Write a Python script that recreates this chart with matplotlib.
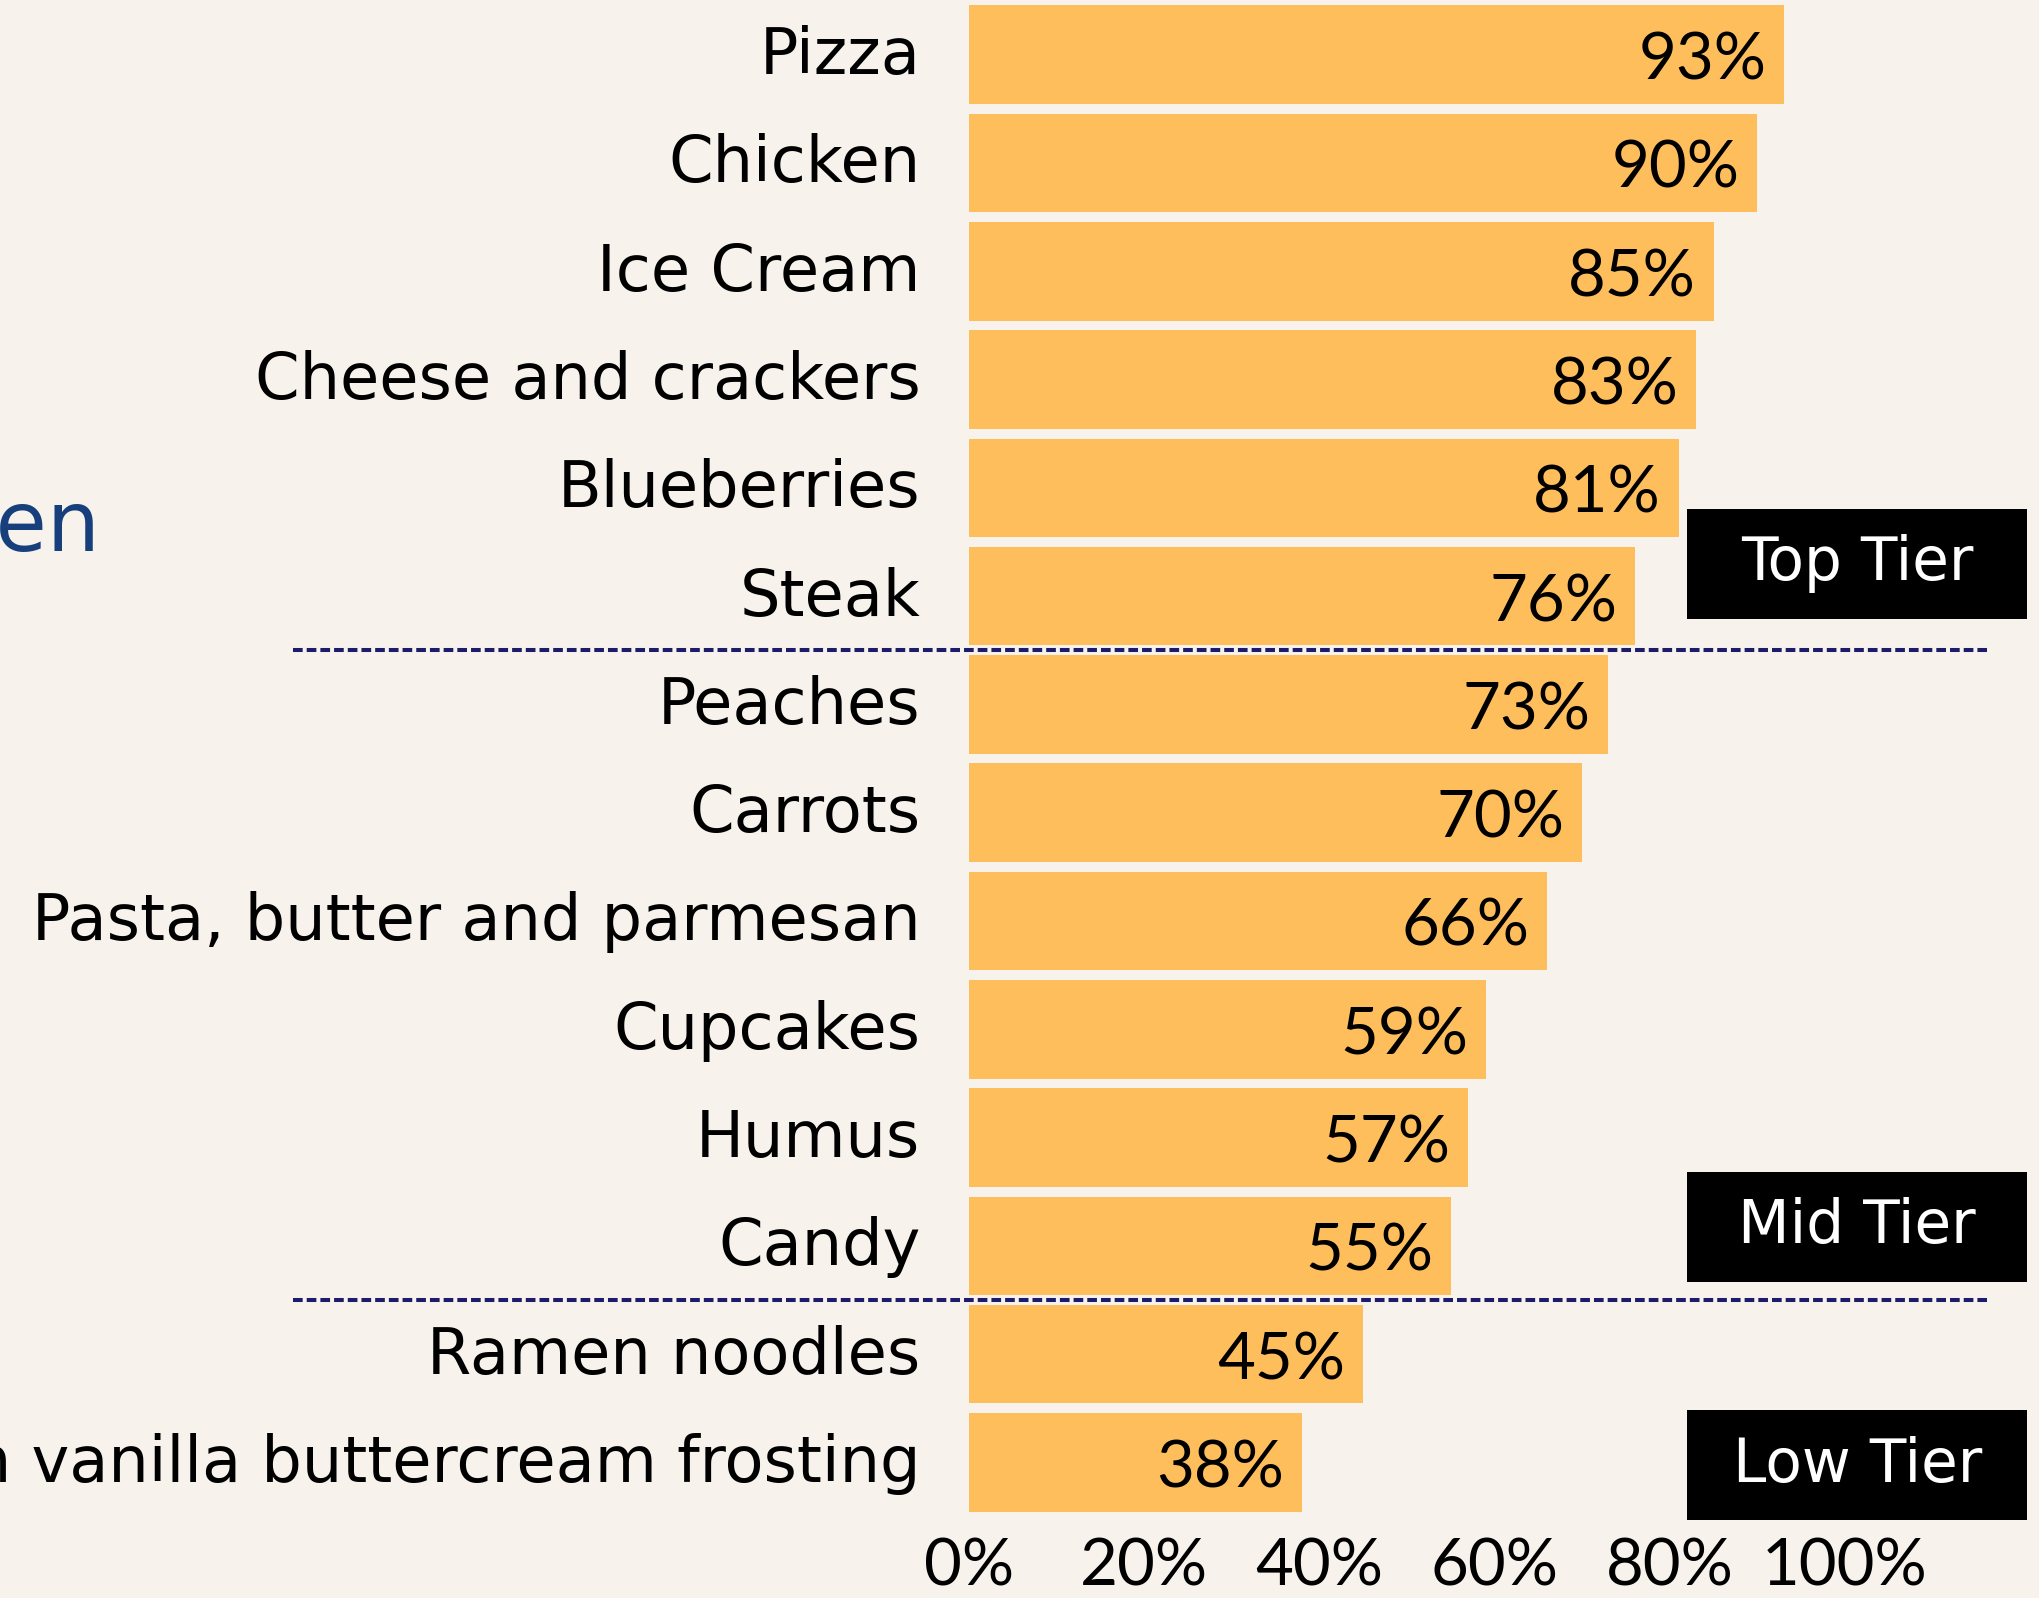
import matplotlib.pyplot as plt
from matplotlib.patches import Rectangle
from matplotlib.transforms import ScaledTranslation

# data
foods = ['Pizza', 'Chicken', 'Ice Cream', 'Cheese and crackers', 'Blueberries', 'Steak',
         'Peaches', 'Carrots', 'Pasta, butter and parmesan', 'Cupcakes', 'Humus', 'Candy',
         'Ramen noodles', 'Cake with vanilla buttercream frosting']
liked = [93, 90, 85, 83, 81, 76, 73, 70, 66, 59, 57, 55, 45, 38]
tier_names = ['Top Tier', 'Mid Tier', 'Low Tier']
tier_breaks = [5.5, 11.5]  # between Steak/Peaches and Candy/Ramen
xticks = [0, 20, 40, 60, 80, 100]

plt.rcParams['font.family'] = ['DejaVu Sans']
num_font = ['Lato', 'DejaVu Sans']  # narrower numerals

W, H = 2040, 1598
fig = plt.figure(figsize=(W / 100, H / 100), dpi=100, facecolor='#f8f2ed')

# axes: 0% at x=969px, 100% at 1845px; bars pitch 108.3px
x0, x100 = 969, 1845
xmax = (W - x0) / (x100 - x0) * 100
ytop, ybot = 0.5, 1516.6
ax = fig.add_axes([x0 / W, 1 - ybot / H, 1 - x0 / W, (ybot - ytop) / H])
ax.set_facecolor('none')

ypos = list(range(len(foods)))
ax.barh(ypos, liked, height=0.91, color='#ffbe5c', zorder=2)
ax.set_ylim(len(foods) - 0.5, -0.5)
ax.set_xlim(0, xmax)

fs = 46
for y, v in zip(ypos, liked):
    ax.text(v - 2.0, y + 0.06, f'{v}%', ha='right', va='center', fontsize=47,
            family=num_font, color='black', zorder=3)

ax.set_yticks(ypos)
ax.set_yticklabels(foods, fontsize=fs)
ax.set_xticks(xticks)
ax.set_xticklabels([f'{t}%' for t in xticks], fontsize=47, family=num_font)
ax.tick_params(length=0)
ax.tick_params(axis='y', pad=35)
ax.tick_params(axis='x', pad=15)
up = ScaledTranslation(0, 5 / 100, fig.dpi_scale_trans)
for lbl in ax.get_yticklabels():
    lbl.set_transform(lbl.get_transform() + up)
for s in ax.spines.values():
    s.set_visible(False)

# tier separators
for yb in tier_breaks:
    ax.plot([-77.2, 116.2], [yb, yb], ls=(0, (2.4, 1.0)), color='#1c1c6b', lw=2.9, clip_on=False, zorder=4)

# tier boxes
boxes = [(4.196, 5.21), (10.32, 11.33), (12.52, 13.53)]
for name, (b0, b1) in zip(tier_names, boxes):
    ax.add_patch(Rectangle((82.0, b0), 38.8, b1 - b0, facecolor='black', edgecolor='none',
                           clip_on=False, zorder=5))
    ax.text(82.0 + 38.8 / 2, (b0 + b1) / 2, name, ha='center', va='center', color='white',
            fontsize=43, zorder=6)

# cut-off title at left
fig.text(101 / W, 1 - 527 / H, 'Kitchen', ha='right', va='center', fontsize=60, color='#163f7c')

fig.savefig('out.png', dpi=100, facecolor=fig.get_facecolor())
